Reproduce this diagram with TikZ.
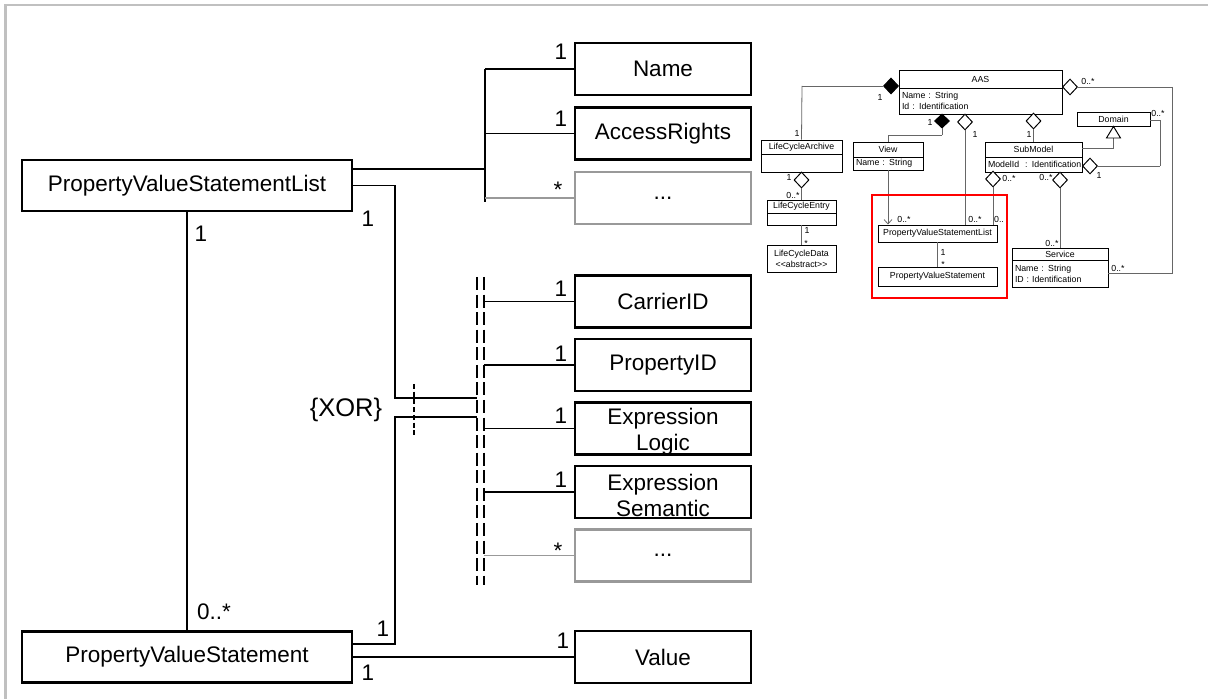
\documentclass[tikz,border=0pt]{standalone}
\usepackage{fontspec}
\setmainfont{Liberation Sans}
\usetikzlibrary{positioning,shapes.geometric,arrows.meta}
\definecolor{framegray}{HTML}{C0C0C0}
\definecolor{boxgray}{HTML}{999999}

\begin{document}
\begin{tikzpicture}[
    x=0.02cm, y=-0.02cm,
    node distance=1.29cm,
    bigclass/.style={
        rectangle,
        draw=black,
        line width=1.6pt,
        minimum width=6.6cm,
        minimum height=1.02cm,
        inner sep=0pt,
        font=\fontsize{12.8}{15}\selectfont
    },
    leaf/.style={
        rectangle,
        draw=black,
        line width=1.6pt,
        minimum width=3.52cm,
        minimum height=1.04cm,
        inner sep=0pt,
        align=center,
        font=\fontsize{12.8}{14.5}\selectfont
    },
    more/.style={leaf, draw=boxgray},
    link/.style={line width=0.8pt},
    greylink/.style={line width=0.8pt, draw=boxgray},
    bar/.style={line width=1.7pt},
    xorbar/.style={line width=0.7pt, dash pattern=on 7.4pt off 2.6pt},
    xorcut/.style={line width=0.6pt, dash pattern=on 2.8pt off 1.6pt},
    mult/.style={font=\fontsize{12.8}{15}\selectfont, inner sep=0pt, anchor=base},
    minibox/.style={
        rectangle,
        draw=black,
        line width=0.55pt,
        inner sep=0pt,
        align=center,
        font=\fontsize{5}{6.2}\selectfont
    },
    miniattr/.style={minibox, align=left, inner xsep=0.06cm},
    minilink/.style={draw=black!60, line width=0.45pt},
    minilabel/.style={font=\fontsize{5}{6}\selectfont, inner sep=0pt},
    aggr/.style={diamond, draw=black, line width=0.55pt, fill=white,
        inner sep=0pt, minimum width=0.3cm, minimum height=0.32cm},
    compo/.style={aggr, fill=black}
]

\fill[white] (0,0) rectangle (1208,699);
\useasboundingbox (0,0) rectangle (1208,699);
\draw[framegray, line width=1.7pt] (5.5,699) -- (5.5,5) -- (1208,5);

% Left classes
\node[bigclass] (pvslist) at (187,185.5) {PropertyValueStatementList};
\node[bigclass] (pvs) at (187,657) {PropertyValueStatement};

% Upper attributes
\node[leaf] (name) at (663,69) {Name};
\node[leaf, below of=name] (rights) {AccessRights};
\node[more, below of=rights] (moreA) {...};

% Lower attributes
\node[leaf] (carrier) at (663,301.5) {CarrierID};
\node[leaf, below of=carrier, node distance=1.27cm] (propid) {PropertyID};
\node[leaf, below of=propid, node distance=1.27cm] (logic) {\raisebox{-0.07cm}[\height][\depth]{\shortstack{Expression\\Logic}}};
\node[leaf, below of=logic, node distance=1.27cm] (semantic) {\raisebox{-0.07cm}[\height][\depth]{\shortstack{Expression\\Semantic}}};
\node[more, below of=semantic, node distance=1.27cm] (moreB) {...};

\node[leaf] (value) at (663,657) {Value};

% Upper bar
\coordinate (barN) at (485,69);
\coordinate (barM) at (485,169);
\coordinate (barS) at (485,202);
\draw[bar] (barN) -- (barS);
\draw[link] (pvslist.east |- barM) -- (barM);
\draw[link] (barN) -- (name.west);
\draw[link] (barN |- rights.west) -- (rights.west);
\draw[greylink] (barN |- moreA.west) -- (moreA.west);

% Dashed bars
\coordinate (dashL) at (477,277);
\coordinate (dashLb) at (477,585);
\coordinate (dashR) at (484,277);
\coordinate (dashRb) at (484,585);
\draw[xorbar] (dashL) -- (dashLb);
\draw[xorbar] (dashR) -- (dashRb);
\draw[link] (dashR |- carrier.west) -- (carrier.west);
\draw[link] (dashR |- propid.west) -- (propid.west);
\draw[link] (dashR |- logic.west) -- (logic.west);
\draw[link] (dashR |- semantic.west) -- (semantic.west);
\draw[greylink] (dashR |- moreB.west) -- (moreB.west);

% XOR branches
\coordinate (kneeA) at (395,398);
\coordinate (kneeB) at (395,417);
\coordinate (kneeC) at (395,644);
\draw[link] (pvslist.east) -| (kneeA) -- (kneeA -| dashL);
\draw[link] (pvs.east |- kneeC) -- (kneeC) -- (kneeB) -- (kneeB -| dashL);
\coordinate (xorT) at (414,384);
\coordinate (xorB) at (414,438);
\draw[xorcut] (xorT) -- (xorB);
\node[mult, anchor=center, font=\fontsize{14.5}{16}\selectfont] (xor) at (346,410) {\{XOR\}};

\draw[link] (pvslist.south) -- (pvs.north);
\draw[link] (pvs.east) -- (value.west);

% Multiplicities
\node[mult] (nName) at (561,60) {1};
\node[mult] (nRights) at (561,127) {1};
\node[mult] (nMoreA) at (558,198) {*};
\node[mult] (nList) at (201,242) {1};
\node[mult] (nListR) at (368,227) {1};
\node[mult] (nCarrier) at (561,297) {1};
\node[mult] (nProp) at (561,362) {1};
\node[mult] (nLogic) at (561,423) {1};
\node[mult] (nSem) at (561,487) {1};
\node[mult] (nMoreB) at (558,558) {*};
\node[mult] (nStmt) at (214,619) {0..*};
\node[mult] (nStmtR) at (383,636) {1};
\node[mult] (nValue) at (563,648) {1};
\node[mult] (nStmtB) at (368,680) {1};

% Overview
\node[minibox, minimum width=3.26cm, minimum height=0.36cm] (aas) at (980.5,79) {AAS};
\node[miniattr, text width=3.14cm, minimum height=0.52cm] (aasattr) at (980.5,101) {Name : String\\Id : Identification};
\node[minibox, minimum width=1.62cm, minimum height=0.28cm] (lca) at (801.5,147) {LifeCycleArchive};
\node[minibox, minimum width=1.62cm, minimum height=0.36cm] (lcaattr) at (801.5,163) {};
\node[minibox, minimum width=1.38cm, minimum height=0.26cm] (lce) at (801.5,206.5) {LifeCycleEntry};
\node[minibox, minimum width=1.38cm, minimum height=0.24cm] (lceattr) at (801.5,219) {};
\node[minibox, minimum width=1.38cm, minimum height=0.54cm] (lcd) at (801.5,258.5) {LifeCycleData\\<\kern0pt<abstract>\kern0pt>};
\node[minibox, minimum width=1.4cm, minimum height=0.3cm] (view) at (888,149.5) {View};
\node[miniattr, text width=1.28cm, minimum height=0.26cm] (viewattr) at (888,163.5) {Name : String};
\node[minibox, minimum width=1.94cm, minimum height=0.3cm] (sub) at (1033.5,149.5) {SubModel};
\node[miniattr, text width=1.82cm, minimum height=0.3cm] (subattr) at (1033.5,164.5) {\mbox{ModelId\ \ : Identification}};
\node[minibox, minimum width=1.46cm, minimum height=0.28cm] (domain) at (1113.5,119) {Domain};
\node[minibox, minimum width=2.38cm, minimum height=0.34cm] (mlist) at (937.5,233.5) {PropertyValueStatementList};
\node[minibox, minimum width=2.38cm, minimum height=0.38cm] (mstmt) at (937.5,276.5) {PropertyValueStatement};
\node[minibox, minimum width=1.92cm, minimum height=0.24cm] (service) at (1060,254) {Service};
\node[miniattr, text width=1.8cm, minimum height=0.54cm] (serviceattr) at (1060,273.5) {Name : String\\ID : Identification};

\coordinate (kLCA) at (802,86);
\coordinate (kSvcTop) at (1172,87);
\coordinate (kSvcBot) at (1172,273.5);
\coordinate (kView) at (942,135);
\coordinate (tri) at (1113.5,138);
\coordinate (kDom) at (1113.5,148);
\coordinate (kAggTop) at (1160,120);
\coordinate (kAggBot) at (1160,166);

\draw[minilink] (kLCA) -- (lca.north);
\draw[minilink] (kSvcTop) -- (kSvcBot) -- (serviceattr.east);
\draw[minilink] (kView) -| (view.north);
\draw[minilink] (lceattr.south) -- (lcd.north);
\draw[minilink, -{Straight Barb[length=2.5pt, width=4.5pt]}] (viewattr.south) -- (viewattr.south |- mlist.north);
\draw[minilink] (mlist.south) -- (mstmt.north);
\draw[minilink] (sub.east |- kDom) -- (kDom) -- (tri);
\draw[minilink] (kAggBot) -- (kAggTop) -- (domain.east |- kAggTop);
\draw[line width=0.55pt, fill=white] ([xshift=-0.14cm]tri) -- (domain.south) -- ([xshift=0.14cm]tri) -- cycle;

\node[compo] (dAAS) at (891,86) {};
\node[aggr] (dAASr) at (1070,87) {};
\node[compo, minimum height=0.28cm] (dView) at (942,121) {};
\node[aggr] (dList) at (965,122) {};
\node[aggr] (dSub) at (1033.5,121) {};
\node[aggr] (dEntry) at (801.5,180) {};
\node[aggr] (dSubList) at (993,179) {};
\node[aggr] (dService) at (1060,180) {};
\node[aggr] (dDomain) at (1090,166) {};

\draw[minilink] (dAAS.west) -- (kLCA);
\draw[minilink] (dAASr.east) -- (kSvcTop);
\draw[minilink] (dView.south) -- (kView);
\draw[minilink] (dList.south) -- (dList.south |- mlist.north);
\draw[minilink] (dSub.south) -- (sub.north);
\draw[minilink] (dEntry.south) -- (lce.north);
\draw[minilink] (dSubList.south) -- (dSubList.south |- mlist.north);
\draw[minilink] (dService.south) -- (service.north);
\draw[minilink] (dDomain.east) -- (kAggBot);

\node[minilabel] (m1) at (880,97) {1};
\node[minilabel] (m2) at (797,133) {1};
\node[minilabel] (m3) at (1088,81) {0..*};
\node[minilabel] (m4) at (1118,268) {0..*};
\node[minilabel] (m5) at (930,122) {1};
\node[minilabel] (m6) at (975,134) {1};
\node[minilabel] (m7) at (1029,134) {1};
\node[minilabel] (m8) at (789,177) {1};
\node[minilabel] (m9) at (793,195) {0..*};
\node[minilabel] (m10) at (807,230) {1};
\node[minilabel] (m11) at (806,243) {*};
\node[minilabel] (m12) at (904,219) {0..*};
\node[minilabel] (m13) at (975,219) {0..*};
\node[minilabel] (m14) at (999,219) {0..};
\node[minilabel] (m15) at (1009,178) {0..*};
\node[minilabel] (m16) at (943,252) {1};
\node[minilabel] (m17) at (943,264) {*};
\node[minilabel] (m18) at (1046,177) {0..*};
\node[minilabel] (m19) at (1052,243) {0..*};
\node[minilabel] (m20) at (1158,113) {0..*};
\node[minilabel] (m21) at (1099,175) {1};

\node[draw=red, line width=1.6pt, minimum width=2.7cm, minimum height=2.06cm] (focus) at (939.5,246.5) {};

\end{tikzpicture}
\end{document}
